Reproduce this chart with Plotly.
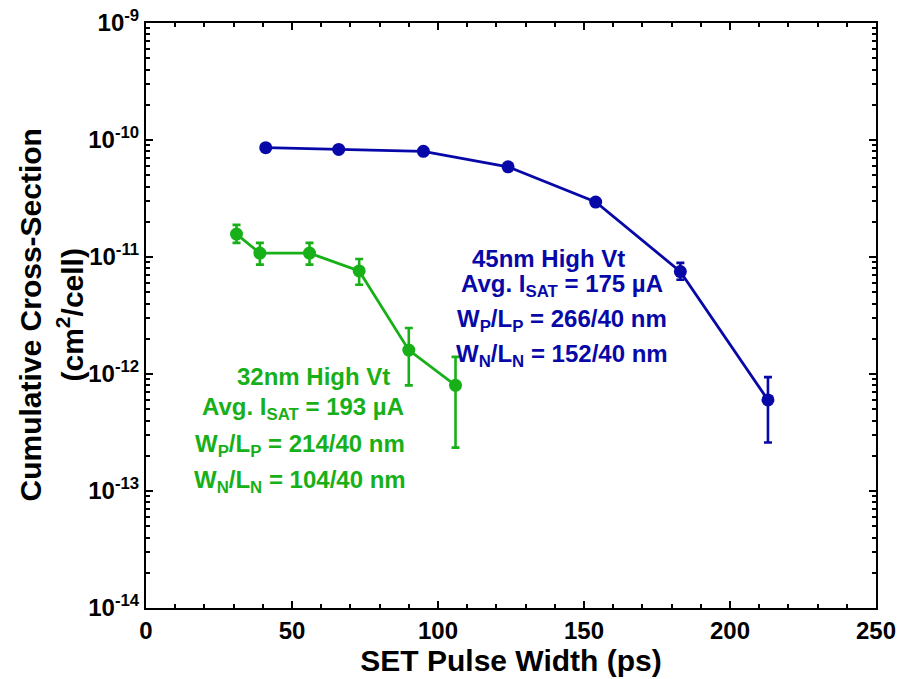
import plotly.graph_objects as go

# 45nm High Vt (blue)
x45 = [41, 66, 95, 124, 154, 183, 213]
y45 = [8.6e-11, 8.3e-11, 8.0e-11, 5.9e-11, 2.95e-11, 7.5e-12, 6.0e-13]
y45_hi = [8.6e-11, 8.3e-11, 8.0e-11, 5.9e-11, 2.95e-11, 8.9e-12, 9.4e-13]
y45_lo = [8.6e-11, 8.3e-11, 8.0e-11, 5.9e-11, 2.95e-11, 6.4e-12, 2.6e-13]

# 32nm High Vt (green)
x32 = [31, 39, 56, 73, 90, 106]
y32 = [1.57e-11, 1.08e-11, 1.08e-11, 7.6e-12, 1.6e-12, 8.0e-13]
y32_hi = [1.88e-11, 1.32e-11, 1.32e-11, 9.6e-12, 2.47e-12, 1.40e-12]
y32_lo = [1.32e-11, 8.6e-12, 8.6e-12, 5.8e-12, 8.0e-13, 2.35e-13]

xticks = [0, 50, 100, 150, 200, 250]
yexps = [-14, -13, -12, -11, -10, -9]

BLUE = "#0808a8"
GREEN = "#18b018"
FONT = "Liberation Sans"

L, R, T, B = 146, 876, 23, 608
W, H = 899, 679

fig = go.Figure()

def add_series(x, y, hi, lo, color):
    fig.add_trace(go.Scatter(
        x=x, y=y, mode="lines+markers",
        line=dict(color=color, width=2.8),
        marker=dict(color=color, size=13, symbol="circle"),
        error_y=dict(type="data", symmetric=False,
                     array=[h - v for h, v in zip(hi, y)],
                     arrayminus=[v - l for v, l in zip(y, lo)],
                     color=color, thickness=2.6, width=4),
        showlegend=False))

add_series(x45, y45, y45_hi, y45_lo, BLUE)
add_series(x32, y32, y32_hi, y32_lo, GREEN)

ytickvals = [10.0 ** e for e in yexps]
yticktext = ["<b>10<sup>%d</sup></b>" % e for e in yexps]
yminor = [m * 10.0 ** e for e in yexps[:-1] for m in range(2, 10)]

fig.update_layout(
    width=W, height=H,
    margin=dict(l=L, r=W - R, t=T, b=H - B),
    paper_bgcolor="white", plot_bgcolor="white",
    font=dict(family=FONT, color="black", size=20),
    xaxis=dict(range=[0, 250], tickvals=xticks, automargin=False,
               ticktext=["<b>%d</b>" % v for v in xticks],
               ticks="inside", ticklen=7, tickwidth=2, tickcolor="black",
               minor=dict(tickvals=list(range(10, 250, 10)), ticks="inside",
                          ticklen=4, tickwidth=2, tickcolor="black"),
               showline=True, linecolor="black", linewidth=2, mirror="ticks",
               showgrid=False, zeroline=False,
               tickfont=dict(size=24, family=FONT),
               title=dict(text="<b>SET Pulse Width (ps)</b>",
                          font=dict(size=30, family=FONT), standoff=4)),
    yaxis=dict(type="log", range=[-14, -9], tickvals=ytickvals, ticktext=yticktext,
               automargin=False,
               ticks="inside", ticklen=7, tickwidth=2, tickcolor="black",
               minor=dict(tickvals=yminor, ticks="inside",
                          ticklen=4, tickwidth=2, tickcolor="black"),
               showline=True, linecolor="black", linewidth=2, mirror="ticks",
               showgrid=False, zeroline=False,
               tickfont=dict(size=24, family=FONT)),
)

PW, PH = R - L, B - T

# y-axis title as annotations
fig.add_annotation(xref="paper", yref="paper", x=(30 - L) / PW, y=0.5, xanchor="center",
                   yanchor="middle", text="<b>Cumulative Cross-Section</b>",
                   textangle=-90, showarrow=False, font=dict(size=30, family=FONT))
fig.add_annotation(xref="paper", yref="paper", x=(70 - L) / PW, y=0.5, xanchor="center",
                   yanchor="middle", text="<b>(cm<sup>2</sup>/cell)</b>",
                   textangle=-90, showarrow=False, font=dict(size=30, family=FONT))

def txt(xp, yp, s, color):
    fig.add_annotation(xref="paper", yref="paper",
                       x=(xp - L) / PW, y=(B - yp) / PH,
                       xanchor="center", yanchor="middle", text="<b>" + s + "</b>",
                       showarrow=False, font=dict(size=24, family=FONT, color=color))

txt(548, 258, "45nm High Vt", BLUE)
txt(562, 285, "Avg. I<sub>SAT</sub> = 175 µA", BLUE)
txt(562, 320, "W<sub>P</sub>/L<sub>P</sub> = 266/40 nm", BLUE)
txt(562, 355, "W<sub>N</sub>/L<sub>N</sub> = 152/40 nm", BLUE)

txt(313, 376, "32nm High Vt", GREEN)
txt(303, 408, "Avg. I<sub>SAT</sub> = 193 µA", GREEN)
txt(300, 445, "W<sub>P</sub>/L<sub>P</sub> = 214/40 nm", GREEN)
txt(300, 481, "W<sub>N</sub>/L<sub>N</sub> = 104/40 nm", GREEN)

fig.write_html("out.html")
